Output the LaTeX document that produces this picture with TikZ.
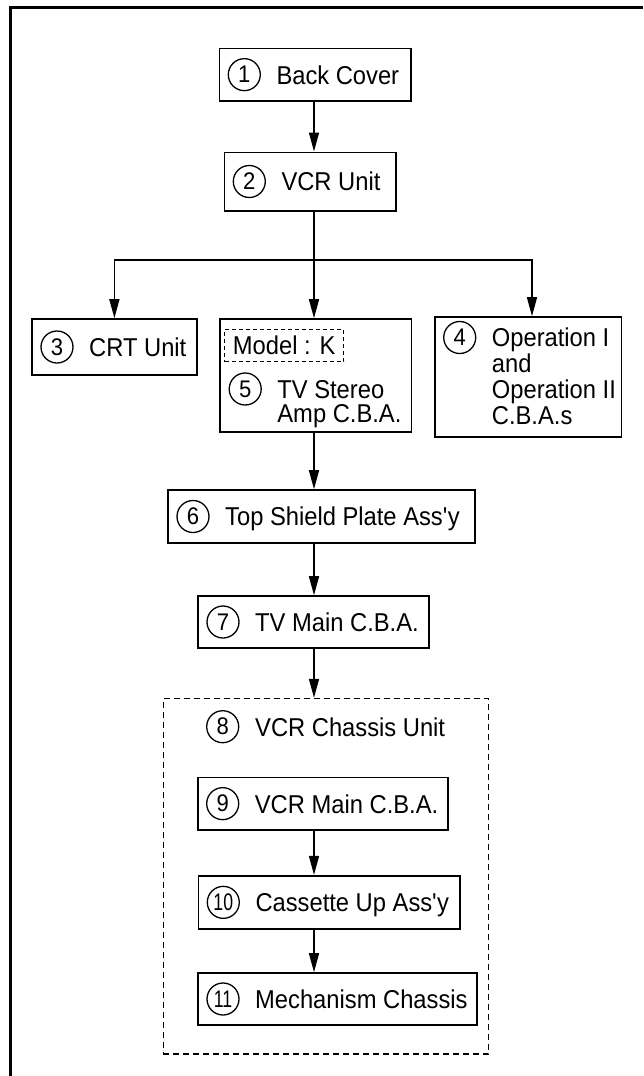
\documentclass[tikz,border=0pt]{standalone}
\usepackage{fontspec}
\usepackage{graphicx}
\setmainfont{Liberation Sans}[FakeStretch=0.92]
\usetikzlibrary{arrows.meta}
\newcommand{\narrownum}[1]{\scalebox{0.8}[1]{#1}}
\begin{document}
\begin{tikzpicture}[x=1pt,y=-1pt,
  every node/.style={font=\fontsize{25.8}{25}\selectfont},
  part/.style={draw, line width=1.6pt, rectangle, inner sep=0pt},
  grp/.style={draw, line width=1.4pt, dash pattern=on 6pt off 4pt, inner sep=0pt},
  tag/.style={draw, line width=1.1pt, dash pattern=on 4pt off 3pt, inner sep=0pt},
  num/.style={draw, circle, line width=1.3pt, minimum size=32pt, inner sep=0pt,
              font=\fontsize{24}{24}\selectfont},
  lbl/.style={anchor=base west, inner sep=0pt},
  flow/.style={line width=1.5pt, -{Triangle[length=19pt,width=10pt]}},
  link/.style={line width=1.5pt}]
\useasboundingbox (0,0) rectangle (643,1076);

% page frame
\draw[line width=2.6pt] (10.5,1076) -- (10.5,7.2) -- (643,7.2);

% vertical axis of the flow
\coordinate (axis) at (314,0);
\coordinate (split) at (314,260);

% boxes
\node[part, minimum width=191.4pt, minimum height=52.7pt] (b1) at (315,74.65) {};
\node[part, minimum width=171.7pt, minimum height=58.4pt] (b2) at (310.15,181.5) {};
\node[part, minimum width=164.8pt, minimum height=56pt] (b3) at (114.4,347) {};
\node[part, minimum width=191.1pt, minimum height=113pt] (b5) at (315.75,375.5) {};
\node[part, minimum width=186.6pt, minimum height=120pt] (b4) at (528,377) {};
\node[part, minimum width=307pt, minimum height=53pt] (b6) at (321.5,516.5) {};
\node[part, minimum width=231pt, minimum height=52pt] (b7) at (313.5,622) {};
\node[grp, minimum width=325.5pt, minimum height=355.5pt] (g8) at (326,876.25) {};
\node[part, minimum width=250pt, minimum height=52.7pt] (b9) at (322.7,803.65) {};
\node[part, minimum width=261.7pt, minimum height=53.3pt] (b10) at (329.15,902.35) {};
\node[part, minimum width=279pt, minimum height=52pt] (b11) at (337.5,999) {};
\node[tag, minimum width=119pt, minimum height=32.4pt] (mk) at (284.2,345.5) {Model : K};

% numbers
\node[num] (n1) at (244.3,74.65) {1};
\node[num] (n2) at (249.3,181.5) {2};
\node[num] (n3) at (57,347) {3};
\node[num] (n4) at (459.7,337.5) {4};
\node[num] (n5) at (245.2,389) {5};
\node[num] (n6) at (193,516.5) {6};
\node[num] (n7) at (223,622) {7};
\node[num] (n8) at (222.7,726.7) {8};
\node[num] (n9) at (222.7,803.65) {9};
\node[num] (n10) at (223.3,902.35) {\narrownum{10}};
\node[num] (n11) at (223,999) {\narrownum{11}};

% labels
\node[lbl] (t1) at (276.3,84) {Back Cover};
\node[lbl] (t2) at (281.3,190.8) {VCR Unit};
\node[lbl] (t3) at (89,356.3) {CRT Unit};
\node[lbl] (t4) at (491.7,346.5) {\begin{tabular}[t]{@{}l@{}}Operation I\\and\\Operation II\\C.B.A.s\end{tabular}};
\node[lbl, font=\fontsize{25.8}{23}\selectfont] (t5) at (277.2,398) {\begin{tabular}[t]{@{}l@{}}TV Stereo\\Amp C.B.A.\end{tabular}};
\node[lbl] (t6) at (225,525.8) {Top Shield Plate Ass\textquotesingle y};
\node[lbl] (t7) at (255,631.3) {TV Main C.B.A.};
\node[lbl] (t8) at (255,736) {VCR Chassis Unit};
\node[lbl] (t9) at (254.7,813) {VCR Main C.B.A.};
\node[lbl] (t10) at (255.3,911.7) {Cassette Up Ass\textquotesingle y};
\node[lbl] (t11) at (255,1008.3) {Mechanism Chassis};

% connectors
\draw[flow] (b1.south -| axis) -- (b2.north -| axis);
\draw[link] (b2.south -| axis) -- (split);
\draw[flow] (split) -- (b5.north -| axis);
\draw[flow] (split) -| (b3.north);
\draw[flow] (split) -| ([xshift=4pt]b4.north);
\draw[flow] (b5.south -| axis) -- (b6.north -| axis);
\draw[flow] (b6.south -| axis) -- (b7.north -| axis);
\draw[flow] (b7.south -| axis) -- (g8.north -| axis);
\draw[flow] (b9.south -| axis) -- (b10.north -| axis);
\draw[flow] (b10.south -| axis) -- (b11.north -| axis);
\end{tikzpicture}
\end{document}
